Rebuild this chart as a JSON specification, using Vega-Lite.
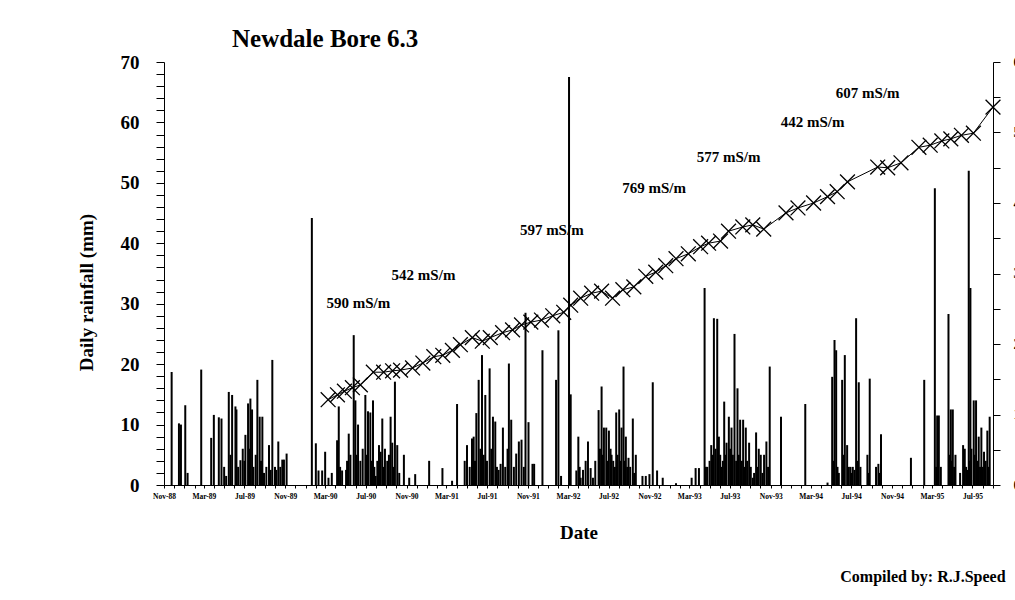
{
"$schema": "https://vega.github.io/schema/vega-lite/v6.json",
"autosize": {"type": "none"},
"width": 829,
"height": 423,
"padding": {"left": 164, "top": 62, "right": 22, "bottom": 115},
"background": "white",
"config": {"view": {"stroke": null}, "font": "Liberation Serif"},
"title": {"text": "Newdale Bore 6.3", "anchor": "start", "frame": "group", "dx": 68, "offset": 1, "font": "Liberation Serif", "fontSize": 25, "fontWeight": "bold", "color": "black"},
"datasets": {
"rain": [
{"date":"1988-11-24","rain":18.7},{"date":"1988-12-16","rain":10.2},{"date":"1988-12-22","rain":10},{"date":"1989-01-04","rain":13.2},{"date":"1989-01-11","rain":2},{"date":"1989-02-21","rain":19.1},{"date":"1989-03-23","rain":7.8},{"date":"1989-03-31","rain":11.6},{"date":"1989-04-15","rain":11.2},{"date":"1989-04-23","rain":11},{"date":"1989-05-01","rain":3},{"date":"1989-05-07","rain":1.5},{"date":"1989-05-15","rain":15.4},{"date":"1989-05-20","rain":5},{"date":"1989-05-25","rain":14.9},{"date":"1989-06-04","rain":13},{"date":"1989-06-07","rain":12.5},{"date":"1989-06-12","rain":3},{"date":"1989-06-19","rain":4.1},{"date":"1989-06-26","rain":6},{"date":"1989-07-01","rain":4},{"date":"1989-07-04","rain":8.3},{"date":"1989-07-12","rain":13.5},{"date":"1989-07-16","rain":6},{"date":"1989-07-19","rain":14.3},{"date":"1989-07-24","rain":12.5},{"date":"1989-07-28","rain":3},{"date":"1989-08-04","rain":5},{"date":"1989-08-09","rain":17.4},{"date":"1989-08-16","rain":11.3},{"date":"1989-08-20","rain":4},{"date":"1989-08-24","rain":11.3},{"date":"1989-08-29","rain":2},{"date":"1989-09-05","rain":3},{"date":"1989-09-13","rain":6.6},{"date":"1989-09-18","rain":2.5},{"date":"1989-09-23","rain":20.7},{"date":"1989-10-01","rain":3},{"date":"1989-10-05","rain":2.5},{"date":"1989-10-11","rain":7.2},{"date":"1989-10-17","rain":3},{"date":"1989-10-23","rain":4.2},{"date":"1989-10-28","rain":4.2},{"date":"1989-11-05","rain":5.2},
{"date":"1990-01-20","rain":44.2},{"date":"1990-02-01","rain":6.9},{"date":"1990-02-09","rain":2.4},{"date":"1990-02-20","rain":2.4},{"date":"1990-03-01","rain":5.5},{"date":"1990-03-11","rain":1.2},{"date":"1990-03-21","rain":2},{"date":"1990-04-06","rain":7.4},{"date":"1990-04-11","rain":13},{"date":"1990-04-15","rain":3},{"date":"1990-04-21","rain":2.4},{"date":"1990-05-03","rain":2.5},{"date":"1990-05-06","rain":4},{"date":"1990-05-11","rain":8.5},{"date":"1990-05-16","rain":5},{"date":"1990-05-26","rain":24.8},{"date":"1990-05-31","rain":14},{"date":"1990-06-03","rain":5},{"date":"1990-06-08","rain":10},{"date":"1990-06-15","rain":4},{"date":"1990-06-22","rain":6},{"date":"1990-06-30","rain":14.9},{"date":"1990-07-04","rain":5},{"date":"1990-07-08","rain":12.2},{"date":"1990-07-15","rain":12},{"date":"1990-07-19","rain":4},{"date":"1990-07-23","rain":14},{"date":"1990-07-27","rain":3},{"date":"1990-07-31","rain":1.5},{"date":"1990-08-05","rain":4},{"date":"1990-08-10","rain":6.6},{"date":"1990-08-15","rain":5.5},{"date":"1990-08-20","rain":11},{"date":"1990-08-24","rain":3},{"date":"1990-08-28","rain":6},{"date":"1990-09-04","rain":4},{"date":"1990-09-09","rain":5},{"date":"1990-09-14","rain":11.3},{"date":"1990-09-19","rain":7},{"date":"1990-09-24","rain":3},{"date":"1990-09-27","rain":17.1},{"date":"1990-10-04","rain":6.6},{"date":"1990-10-10","rain":2},{"date":"1990-10-24","rain":5},{"date":"1990-11-09","rain":1.2},{"date":"1990-11-27","rain":1.8},
{"date":"1991-01-08","rain":4},{"date":"1991-02-17","rain":2.8},{"date":"1991-03-18","rain":0.7},{"date":"1991-04-02","rain":13.4},{"date":"1991-04-25","rain":4},{"date":"1991-05-02","rain":6.6},{"date":"1991-05-10","rain":3},{"date":"1991-05-17","rain":7.7},{"date":"1991-05-22","rain":8},{"date":"1991-05-26","rain":4},{"date":"1991-05-30","rain":11.9},{"date":"1991-06-06","rain":17.4},{"date":"1991-06-11","rain":6},{"date":"1991-06-16","rain":21.5},{"date":"1991-06-21","rain":5},{"date":"1991-06-26","rain":14.9},{"date":"1991-07-01","rain":4},{"date":"1991-07-09","rain":19.3},{"date":"1991-07-14","rain":6},{"date":"1991-07-19","rain":11.3},{"date":"1991-07-26","rain":10.5},{"date":"1991-07-31","rain":3},{"date":"1991-08-05","rain":2.5},{"date":"1991-08-11","rain":3.5},{"date":"1991-08-18","rain":9.5},{"date":"1991-08-25","rain":3},{"date":"1991-09-01","rain":6},{"date":"1991-09-05","rain":20.1},{"date":"1991-09-12","rain":10.8},{"date":"1991-09-20","rain":3},{"date":"1991-09-27","rain":5.2},{"date":"1991-10-05","rain":7.2},{"date":"1991-10-13","rain":7.5},{"date":"1991-10-20","rain":3},{"date":"1991-10-25","rain":28.5},{"date":"1991-11-03","rain":10.4},{"date":"1991-11-15","rain":3.5},{"date":"1991-11-20","rain":3.5},{"date":"1991-12-15","rain":22.3},
{"date":"1992-01-25","rain":17.4},{"date":"1992-02-01","rain":25.6},{"date":"1992-02-09","rain":1.5},{"date":"1992-03-04","rain":67.5},{"date":"1992-03-09","rain":15},{"date":"1992-03-26","rain":2.4},{"date":"1992-04-01","rain":8},{"date":"1992-04-05","rain":3},{"date":"1992-04-08","rain":1.2},{"date":"1992-04-15","rain":2.5},{"date":"1992-04-23","rain":4},{"date":"1992-04-30","rain":7.2},{"date":"1992-05-08","rain":2.8},{"date":"1992-05-15","rain":1.2},{"date":"1992-05-22","rain":4},{"date":"1992-06-01","rain":12.4},{"date":"1992-06-05","rain":6},{"date":"1992-06-10","rain":16.3},{"date":"1992-06-14","rain":5},{"date":"1992-06-17","rain":9.5},{"date":"1992-06-24","rain":9.5},{"date":"1992-06-28","rain":4},{"date":"1992-07-02","rain":9},{"date":"1992-07-07","rain":6},{"date":"1992-07-10","rain":5},{"date":"1992-07-15","rain":4},{"date":"1992-07-20","rain":3},{"date":"1992-07-24","rain":12},{"date":"1992-07-28","rain":5},{"date":"1992-08-02","rain":12.5},{"date":"1992-08-05","rain":4},{"date":"1992-08-09","rain":9.5},{"date":"1992-08-15","rain":19.6},{"date":"1992-08-19","rain":4},{"date":"1992-08-22","rain":8},{"date":"1992-08-26","rain":3},{"date":"1992-08-30","rain":4.5},{"date":"1992-09-04","rain":3},{"date":"1992-09-12","rain":11},{"date":"1992-09-16","rain":2},{"date":"1992-09-21","rain":5},{"date":"1992-10-11","rain":1.5},{"date":"1992-10-21","rain":1.5},{"date":"1992-11-01","rain":1.8},{"date":"1992-11-11","rain":17},{"date":"1992-11-24","rain":2.4},{"date":"1992-12-11","rain":1.2},
{"date":"1993-01-20","rain":0.3},{"date":"1993-03-08","rain":1.2},{"date":"1993-03-20","rain":2.8},{"date":"1993-03-30","rain":2.8},{"date":"1993-04-16","rain":32.6},{"date":"1993-04-20","rain":3},{"date":"1993-04-24","rain":3},{"date":"1993-05-01","rain":4},{"date":"1993-05-06","rain":6.6},{"date":"1993-05-10","rain":5},{"date":"1993-05-14","rain":27.6},{"date":"1993-05-19","rain":6},{"date":"1993-05-24","rain":27.5},{"date":"1993-05-29","rain":8},{"date":"1993-06-02","rain":5},{"date":"1993-06-06","rain":3},{"date":"1993-06-10","rain":4},{"date":"1993-06-14","rain":13.8},{"date":"1993-06-18","rain":5},{"date":"1993-06-21","rain":7},{"date":"1993-06-28","rain":11.3},{"date":"1993-07-02","rain":6},{"date":"1993-07-06","rain":9.5},{"date":"1993-07-10","rain":5},{"date":"1993-07-15","rain":25},{"date":"1993-07-20","rain":4},{"date":"1993-07-24","rain":16},{"date":"1993-07-28","rain":5},{"date":"1993-08-01","rain":10.8},{"date":"1993-08-06","rain":4},{"date":"1993-08-10","rain":10.8},{"date":"1993-08-14","rain":3},{"date":"1993-08-18","rain":9.5},{"date":"1993-08-22","rain":4},{"date":"1993-08-28","rain":7},{"date":"1993-09-02","rain":3},{"date":"1993-09-08","rain":1.2},{"date":"1993-09-12","rain":2},{"date":"1993-09-18","rain":8.7},{"date":"1993-09-22","rain":3},{"date":"1993-09-26","rain":6},{"date":"1993-10-02","rain":5},{"date":"1993-10-07","rain":2},{"date":"1993-10-12","rain":5},{"date":"1993-10-19","rain":7.2},{"date":"1993-10-24","rain":3},{"date":"1993-10-29","rain":19.6},{"date":"1993-12-02","rain":11.3},
{"date":"1994-02-13","rain":13.4},{"date":"1994-04-21","rain":0.4},{"date":"1994-05-05","rain":17.9},{"date":"1994-05-08","rain":4},{"date":"1994-05-12","rain":24},{"date":"1994-05-17","rain":22.3},{"date":"1994-05-21","rain":3},{"date":"1994-05-25","rain":2},{"date":"1994-06-04","rain":17.4},{"date":"1994-06-08","rain":5},{"date":"1994-06-12","rain":21.5},{"date":"1994-06-19","rain":6.6},{"date":"1994-06-24","rain":3},{"date":"1994-06-29","rain":3},{"date":"1994-07-02","rain":2},{"date":"1994-07-06","rain":3},{"date":"1994-07-11","rain":2.5},{"date":"1994-07-16","rain":27.6},{"date":"1994-07-20","rain":4},{"date":"1994-07-24","rain":17},{"date":"1994-07-29","rain":3},{"date":"1994-08-19","rain":5},{"date":"1994-08-23","rain":2},{"date":"1994-08-26","rain":17.6},{"date":"1994-09-14","rain":3},{"date":"1994-09-21","rain":3.5},{"date":"1994-09-25","rain":2},{"date":"1994-09-29","rain":8.4},{"date":"1994-12-28","rain":4.5},
{"date":"1995-02-06","rain":17.4},{"date":"1995-03-10","rain":49.1},{"date":"1995-03-14","rain":3},{"date":"1995-03-17","rain":11.5},{"date":"1995-03-22","rain":11.5},{"date":"1995-03-28","rain":3},{"date":"1995-04-20","rain":28.3},{"date":"1995-04-23","rain":5},{"date":"1995-04-27","rain":12.5},{"date":"1995-04-30","rain":4},{"date":"1995-05-03","rain":12.5},{"date":"1995-05-07","rain":3},{"date":"1995-05-11","rain":5},{"date":"1995-05-25","rain":2},{"date":"1995-06-03","rain":6.6},{"date":"1995-06-08","rain":6},{"date":"1995-06-12","rain":3},{"date":"1995-06-16","rain":2.5},{"date":"1995-06-20","rain":52},{"date":"1995-06-23","rain":4},{"date":"1995-06-25","rain":32.6},{"date":"1995-06-28","rain":6},{"date":"1995-07-05","rain":14},{"date":"1995-07-08","rain":5},{"date":"1995-07-12","rain":14},{"date":"1995-07-16","rain":4},{"date":"1995-07-20","rain":8},{"date":"1995-07-24","rain":3},{"date":"1995-07-28","rain":9.5},{"date":"1995-08-01","rain":3},{"date":"1995-08-05","rain":5.5},{"date":"1995-08-10","rain":4},{"date":"1995-08-15","rain":9},{"date":"1995-08-18","rain":3},{"date":"1995-08-22","rain":11.3}
],
"level": [
{"date":"1990-03-10","level":1.21},{"date":"1990-04-07","level":1.28},{"date":"1990-04-28","level":1.33},{"date":"1990-05-22","level":1.38},{"date":"1990-06-15","level":1.42},{"date":"1990-07-24","level":1.6},{"date":"1990-08-24","level":1.6},{"date":"1990-09-20","level":1.62},{"date":"1990-10-14","level":1.63},{"date":"1990-11-19","level":1.66},{"date":"1990-12-20","level":1.73},{"date":"1991-01-22","level":1.82},{"date":"1991-02-18","level":1.84},{"date":"1991-03-19","level":1.91},{"date":"1991-04-12","level":1.99},{"date":"1991-05-18","level":2.09},{"date":"1991-06-17","level":2.04},{"date":"1991-07-11","level":2.09},{"date":"1991-08-17","level":2.16},{"date":"1991-09-16","level":2.2},{"date":"1991-10-13","level":2.27},{"date":"1991-11-10","level":2.31},{"date":"1991-12-12","level":2.34},{"date":"1992-01-15","level":2.4},{"date":"1992-02-17","level":2.45},{"date":"1992-03-09","level":2.55},{"date":"1992-04-08","level":2.65},{"date":"1992-05-11","level":2.72},{"date":"1992-06-10","level":2.75},{"date":"1992-07-13","level":2.65},{"date":"1992-08-13","level":2.77},{"date":"1992-09-15","level":2.81},{"date":"1992-10-21","level":2.96},{"date":"1992-11-20","level":3.02},{"date":"1992-12-20","level":3.11},{"date":"1993-01-20","level":3.21},{"date":"1993-02-26","level":3.28},{"date":"1993-04-04","level":3.38},{"date":"1993-04-28","level":3.43},{"date":"1993-06-03","level":3.46},{"date":"1993-06-27","level":3.6},{"date":"1993-08-09","level":3.66},{"date":"1993-09-08","level":3.69},{"date":"1993-10-11","level":3.63},{"date":"1993-12-17","level":3.86},{"date":"1994-01-22","level":3.93},{"date":"1994-03-10","level":4.0},{"date":"1994-04-21","level":4.09},{"date":"1994-05-20","level":4.16},{"date":"1994-06-20","level":4.3},{"date":"1994-09-19","level":4.51},{"date":"1994-10-19","level":4.5},{"date":"1994-11-28","level":4.57},{"date":"1995-01-21","level":4.79},{"date":"1995-02-24","level":4.82},{"date":"1995-03-31","level":4.88},{"date":"1995-04-27","level":4.91},{"date":"1995-05-29","level":4.96},{"date":"1995-07-04","level":4.99},{"date":"1995-09-01","level":5.36}
],
"notes": [
{"date":"1990-06-09","rain":30.2,"label":"590 mS/m"},{"date":"1990-12-22","rain":34.75,"label":"542 mS/m"},{"date":"1992-01-12","rain":42.2,"label":"597 mS/m"},{"date":"1992-11-15","rain":49.1,"label":"769 mS/m"},{"date":"1993-06-27","rain":54.3,"label":"577 mS/m"},{"date":"1994-03-07","rain":60.1,"label":"442 mS/m"},{"date":"1994-08-20","rain":64.9,"label":"607 mS/m"}
],
"credit": [
{"date":"1995-10-09","rain":-15.2,"label":"Compiled by: R.J.Speed"}
]
},
"resolve": {"scale": {"y": "independent"}},
"layer": [
{
"data": {"name": "rain"},
"mark": {"type": "rule", "color": "black", "strokeWidth": 2},
"encoding": {
"x": {"field": "date", "type": "temporal",
"scale": {"domain": [{"year": 1988, "month": 11, "date": 1}, {"year": 1995, "month": 9, "date": 1}]},
"axis": {"title": "Date", "titleFont": "Liberation Serif", "titleFontSize": 19, "titleFontWeight": "bold", "titleColor": "black", "titlePadding": 24,
"tickCount": {"interval": "month", "step": 1}, "labelExpr": "month(datum.value) % 4 == 2 ? timeFormat(datum.value, '%b-%y') : ''",
"labelFont": "Liberation Serif", "labelFontSize": 7.5, "labelFontWeight": "bold", "labelColor": "black", "labelOverlap": false, "labelFlush": false, "labelBound": false,
"tickSize": 3, "tickColor": "black", "domainColor": "black", "labelPadding": 4, "grid": false}},
"y": {"field": "rain", "type": "quantitative",
"scale": {"domain": [0, 70], "nice": false, "zero": true},
"axis": {"orient": "left", "title": "Daily rainfall (mm)", "titleFont": "Liberation Serif", "titleFontSize": 19, "titleFontWeight": "bold", "titleColor": "black", "titleX": -78, "titleY": 230, "titleBaseline": "middle", "titleAngle": -90,
"values": [0,2,4,6,8,10,12,14,16,18,20,22,24,26,28,30,32,34,36,38,40,42,44,46,48,50,52,54,56,58,60,62,64,66,68,70],
"labelExpr": "datum.value % 10 == 0 ? datum.label : ''",
"labelFont": "Liberation Serif", "labelFontSize": 19, "labelFontWeight": "bold", "labelColor": "black", "labelPadding": 17,
"tickSize": 8, "tickColor": "black", "domainColor": "black", "grid": false}},
"y2": {"datum": 0}
}
},
{
"data": {"name": "level"},
"mark": {"type": "line", "color": "black", "strokeWidth": 1,
"point": {"shape": "M-1,-1L1,1M-1,1L1,-1", "size": 220, "filled": false, "stroke": "black", "strokeWidth": 1.3}},
"encoding": {
"x": {"field": "date", "type": "temporal"},
"y": {"field": "level", "type": "quantitative",
"scale": {"domain": [0, 6], "nice": false, "zero": true},
"axis": {"orient": "right", "title": null,
"values": [0,0.5,1,1.5,2,2.5,3,3.5,4,4.5,5,5.5,6],
"labelExpr": "datum.value % 1 == 0 ? datum.label : ''",
"labelFont": "Liberation Serif", "labelFontSize": 14, "labelFontWeight": "bold", "labelColor": "black", "labelPadding": 13,
"tickSize": 7, "tickColor": "black", "domainColor": "black", "grid": false}}
}
},
{
"data": {"name": "notes"},
"mark": {"type": "text", "font": "Liberation Serif", "fontSize": 15, "fontWeight": "bold", "color": "black", "align": "center", "baseline": "middle"},
"encoding": {
"x": {"field": "date", "type": "temporal"},
"y": {"field": "rain", "type": "quantitative", "scale": {"domain": [0, 70], "nice": false, "zero": true}, "axis": null},
"text": {"field": "label"}
}
},
{
"data": {"name": "credit"},
"mark": {"type": "text", "font": "Liberation Serif", "fontSize": 16, "fontWeight": "bold", "color": "black", "align": "right", "baseline": "middle"},
"encoding": {
"x": {"field": "date", "type": "temporal"},
"y": {"field": "rain", "type": "quantitative", "scale": {"domain": [0, 70], "nice": false, "zero": true}, "axis": null},
"text": {"field": "label"}
}
}
]
}
